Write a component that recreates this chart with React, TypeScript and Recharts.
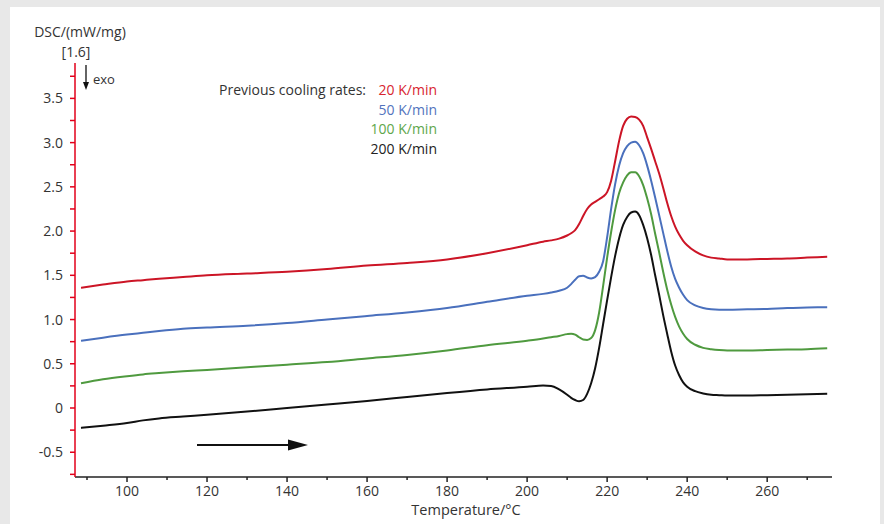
import { LineChart, Line, XAxis, YAxis } from 'recharts'

// temperature grid (°C) shared by the four curves
const temps = [
  88.5, 94, 100, 104, 108, 114, 120, 130, 140, 150, 160, 170, 180, 190, 200,
  204, 206, 208,
  210, 211, 212, 213, 214, 215, 216, 217, 218, 219, 220, 221, 222, 223, 224, 225,
  226, 227, 228, 229, 230, 231, 232, 233, 234, 235, 236, 237, 238, 239, 240,
  242, 244, 246, 248, 250,
  255, 260, 265, 270, 275,
]

// DSC signal in mW/mg, by previous cooling rate
const rate20 = [
  1.36, 1.395, 1.43, 1.445, 1.46, 1.48, 1.5, 1.52, 1.54, 1.57, 1.61, 1.64, 1.68, 1.75, 1.84,
  1.88, 1.895, 1.915,
  1.95, 1.975, 2.01, 2.08, 2.17, 2.25, 2.3, 2.33, 2.36, 2.39, 2.44, 2.57, 2.79, 3.02, 3.19, 3.27,
  3.295, 3.29, 3.26, 3.19, 3.06, 2.93, 2.79, 2.65, 2.49, 2.32, 2.17, 2.05, 1.96, 1.89, 1.84,
  1.77, 1.725, 1.7, 1.69, 1.68,
  1.68, 1.685, 1.69, 1.7, 1.71,
]
const rate50 = [
  0.76, 0.795, 0.83, 0.85, 0.87, 0.895, 0.91, 0.93, 0.96, 1.0, 1.04, 1.08, 1.13, 1.2, 1.27,
  1.29, 1.305, 1.325,
  1.36, 1.4, 1.45, 1.49, 1.495, 1.475, 1.465, 1.48, 1.54, 1.66, 1.93, 2.25, 2.53, 2.74, 2.88, 2.96,
  3.0, 3.01, 2.97, 2.88, 2.74, 2.57, 2.38, 2.18, 1.98, 1.78, 1.6, 1.46, 1.36, 1.28, 1.22,
  1.16, 1.13, 1.115, 1.11, 1.11,
  1.115, 1.12, 1.13, 1.135, 1.14,
]
const rate100 = [
  0.28, 0.325, 0.36, 0.38, 0.395, 0.415, 0.43, 0.46, 0.49, 0.52, 0.56, 0.6, 0.65, 0.71, 0.76,
  0.785, 0.8, 0.815,
  0.835, 0.84, 0.83, 0.8, 0.775, 0.77, 0.79, 0.88, 1.08, 1.38, 1.7, 1.99, 2.24, 2.43, 2.55, 2.63,
  2.665, 2.665, 2.62, 2.52, 2.37, 2.19, 1.97, 1.76, 1.54, 1.34, 1.17, 1.03, 0.92, 0.84, 0.78,
  0.715, 0.68, 0.665, 0.655, 0.65,
  0.65, 0.655, 0.66, 0.665, 0.675,
]
const rate200 = [
  -0.225, -0.2, -0.17, -0.14, -0.118, -0.097, -0.077, -0.04, 0.0, 0.04, 0.08, 0.125, 0.17, 0.21, 0.24,
  0.255, 0.25, 0.21,
  0.15, 0.115, 0.09, 0.075, 0.09, 0.16, 0.28, 0.45, 0.68, 0.95, 1.22, 1.48, 1.72, 1.92, 2.07, 2.16,
  2.21, 2.22, 2.18, 2.07, 1.92, 1.73, 1.5, 1.28, 1.05, 0.84, 0.64, 0.48, 0.37, 0.29, 0.24,
  0.19, 0.165, 0.15, 0.145, 0.14,
  0.14, 0.145, 0.15, 0.155, 0.16,
]

const xTicks = [90, 100, 110, 120, 130, 140, 150, 160, 170, 180, 190, 200, 210, 220, 230, 240, 250, 260, 270]
const yTicks = [-0.75, -0.5, -0.25, 0, 0.25, 0.5, 0.75, 1, 1.25, 1.5, 1.75, 2, 2.25, 2.5, 2.75, 3, 3.25, 3.5, 3.75]

const series = [
  { key: 'r20', label: '20 K/min', values: rate20, color: '#cc1526', text: '#d8242f' },
  { key: 'r50', label: '50 K/min', values: rate50, color: '#4a70bd', text: '#5273bd' },
  { key: 'r100', label: '100 K/min', values: rate100, color: '#4f9a3f', text: '#5ea64b' },
  { key: 'r200', label: '200 K/min', values: rate200, color: '#111111', text: '#222222' },
]

const data = temps.map((t, i) => {
  const row: Record<string, number> = { t }
  series.forEach((s) => {
    row[s.key] = s.values[i]
  })
  return row
})

const FONT = "'Open Sans', 'Noto Sans', sans-serif"

function XTick(props: any) {
  const { x, y, payload } = props
  const major = payload.value % 20 === 0
  return (
    <g>
      <line x1={x} x2={x} y1={y} y2={y + (major ? 5 : 3)} stroke="#222" strokeWidth={1.5} />
      {major && (
        <text x={x} y={y + 19} textAnchor="middle" fill="#333" fontSize={14} fontFamily={FONT}>
          {payload.value}
        </text>
      )}
    </g>
  )
}

function yLabel(v: number) {
  if (Math.abs(v * 2 - Math.round(v * 2)) > 1e-6) return ''
  if (v === 0) return '0'
  return v.toFixed(1)
}

export default function App() {
  return (
    <div style={{ position: 'absolute', left: 0, top: 0, width: 884, height: 524, background: '#e8e8e8' }}>
      <div style={{ position: 'absolute', left: 10, top: 7, width: 870, height: 517, background: '#fff' }} />
      <div style={{ position: 'absolute', left: 0, top: 0 }}>
        <LineChart width={884} height={524} data={data} margin={{ top: 63, right: 52, bottom: 17, left: 45 }}>
          <XAxis
            dataKey="t"
            type="number"
            domain={[87, 276.2]}
            ticks={xTicks}
            interval={0}
            allowDataOverflow
            height={30}
            tickSize={0}
            tickMargin={0}
            tickLine={false}
            axisLine={{ stroke: '#222', strokeWidth: 1.5 }}
            tick={<XTick />}
          />
          <YAxis
            type="number"
            domain={[-0.78, 3.9]}
            ticks={yTicks}
            interval={0}
            allowDataOverflow
            width={30}
            tickSize={5}
            tickMargin={7}
            axisLine={{ stroke: '#e2001a', strokeWidth: 1.5 }}
            tickLine={{ stroke: '#e2001a', strokeWidth: 1.5 }}
            tick={{ fill: '#333', fontSize: 14, fontFamily: FONT }}
            tickFormatter={yLabel}
          />
          {series.map((s) => (
            <Line
              key={s.key}
              dataKey={s.key}
              type="monotone"
              stroke={s.color}
              strokeWidth={2}
              dot={false}
              isAnimationActive={false}
            />
          ))}
        </LineChart>
      </div>
      <svg
        width={884}
        height={524}
        style={{ position: 'absolute', left: 0, top: 0, pointerEvents: 'none' }}
        fontFamily={FONT}
      >
        <text x={80} y={37} textAnchor="middle" fontSize={14} fill="#333">DSC/(mW/mg)</text>
        <text x={76} y={57} textAnchor="middle" fontSize={14} fill="#333">[1.6]</text>
        <line x1={86} x2={86} y1={65} y2={83} stroke="#111" strokeWidth={1.3} />
        <polygon points="83,82 89,82 86,90" fill="#111" />
        <text x={93} y={84} fontSize={13} fill="#333">exo</text>

        <text x={366} y={95} textAnchor="end" fontSize={14} fill="#333">Previous cooling rates:</text>
        {series.map((s, i) => (
          <text key={s.key} x={437} y={95 + i * 19.7} textAnchor="end" fontSize={14} fill={s.text}>
            {s.label}
          </text>
        ))}

        <line x1={197} x2={290} y1={445} y2={445} stroke="#111" strokeWidth={2} />
        <polygon points="288,439.5 308,445 288,450.5" fill="#111" />

        <text x={466} y={515} textAnchor="middle" fontSize={14.5} fill="#333">Temperature/°C</text>
      </svg>
    </div>
  )
}
